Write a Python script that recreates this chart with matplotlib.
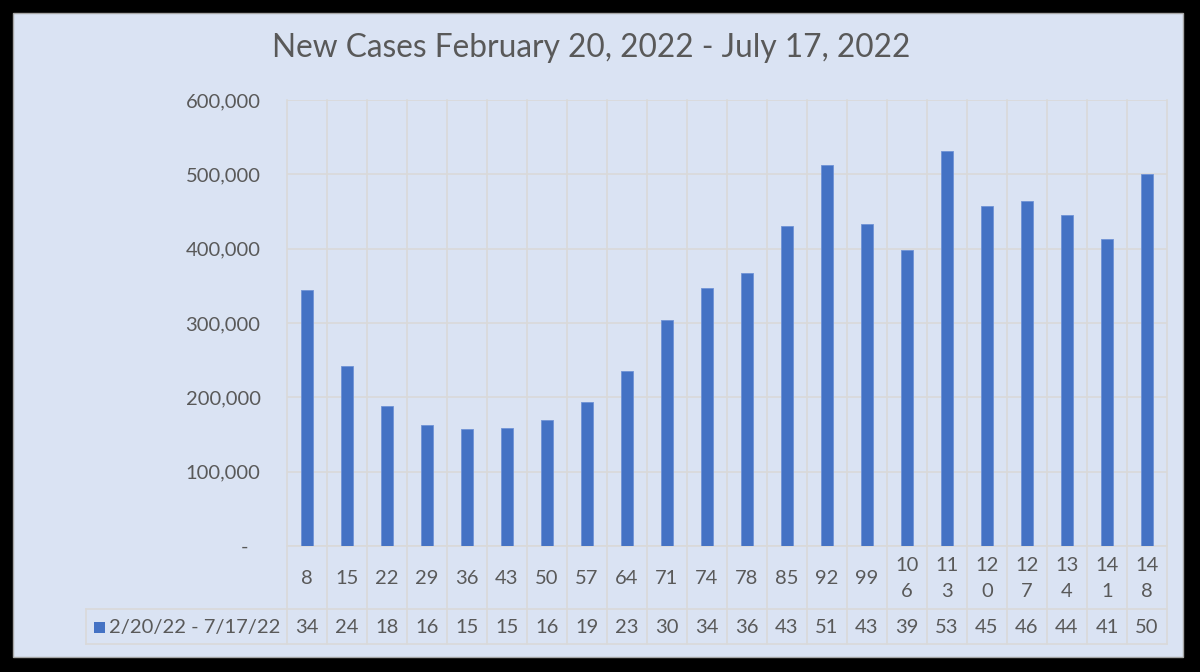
import matplotlib
matplotlib.use("Agg")
import matplotlib.pyplot as plt
import matplotlib.transforms as mtransforms
from matplotlib.patches import Rectangle
from matplotlib.lines import Line2D

plt.rcParams['font.family'] = ['Lato', 'DejaVu Sans']

title = "New Cases February 20, 2022 - July 17, 2022"
series_name = "2/20/22 - 7/17/22"
categories = ["8", "15", "22", "29", "36", "43", "50", "57", "64", "71", "74",
              "78", "85", "92", "99", "106", "113", "120", "127", "134", "141", "148"]
values = [345000, 242000, 189000, 163000, 157000, 159000, 169000, 194000, 235000,
          304000, 347000, 367000, 430000, 513000, 433000, 398000, 531000, 457000,
          464000, 445000, 413000, 501000]
yticks = [0, 100000, 200000, 300000, 400000, 500000, 600000]

W, H = 1200, 672
fig = plt.figure(figsize=(W / 100, H / 100), dpi=100)
fig.patch.set_facecolor("black")

def fx(px):
    return px / W

def fy(py):
    return 1 - py / H

bg = "#dae3f3"
grid_c = "#d9d9d9"
text_c = "#595959"
bar_c = "#4472c4"
fs = 14.5

# panel
fig.add_artist(Rectangle((fx(13), fy(657)), fx(1183) - fx(13), fy(13) - fy(657),
                         transform=fig.transFigure, facecolor=bg,
                         edgecolor="#a6a6a6", linewidth=1, zorder=-5))

fig.text(fx(591), fy(48), title, ha="center", va="center", fontsize=22.8, color=text_c)

L, R, T, B = 287, 1167, 100, 546
ax = fig.add_axes([fx(L), fy(B), fx(R) - fx(L), fy(T) - fy(B)])
ax.set_facecolor("none")
n = len(categories)
x = list(range(n))
ax.bar(x, values, width=0.32, color=bar_c, edgecolor="#6f93d6", linewidth=0.6, zorder=3)
ax.set_xlim(-0.5, n - 0.5)
ax.set_ylim(0, 600000)
ax.set_yticks(yticks)
ax.set_yticklabels(["-"] + [f"{v:,}" for v in yticks[1:]])
ax.tick_params(axis="y", length=0, pad=19, labelsize=fs, labelcolor=text_c)
ax.set_xticks([])
for s in ax.spines.values():
    s.set_visible(False)
ax.yaxis.grid(True, color=grid_c, linewidth=1.2, zorder=0)
ax.set_axisbelow(True)
fig.canvas.draw()
for lab in ax.get_yticklabels():
    if lab.get_text() == "-":
        lab.set_transform(lab.get_transform() +
                          mtransforms.ScaledTranslation(-12 / 100, 0, fig.dpi_scale_trans))

# table
row1_bot, row2_bot = 609, 644
lw = 1.2
for i in range(n + 1):
    xp = L + (R - L) * i / n
    fig.add_artist(Line2D([fx(xp), fx(xp)], [fy(T), fy(row2_bot)], transform=fig.transFigure,
                          color=grid_c, linewidth=lw, zorder=-1))
fig.add_artist(Line2D([fx(L), fx(R)], [fy(B), fy(B)], transform=fig.transFigure,
                      color=grid_c, linewidth=lw, zorder=-1))
fig.add_artist(Line2D([fx(86), fx(R)], [fy(row1_bot), fy(row1_bot)], transform=fig.transFigure,
                      color=grid_c, linewidth=lw, zorder=-1))
fig.add_artist(Line2D([fx(86), fx(R)], [fy(row2_bot), fy(row2_bot)], transform=fig.transFigure,
                      color=grid_c, linewidth=lw, zorder=-1))
fig.add_artist(Line2D([fx(86), fx(86)], [fy(row1_bot), fy(row2_bot)], transform=fig.transFigure,
                      color=grid_c, linewidth=lw, zorder=-1))

for i, (c, v) in enumerate(zip(categories, values)):
    xc = L + (R - L) * (i + 0.5) / n
    lab = c if len(c) <= 2 else c[:2] + "\n" + c[2:]
    fig.text(fx(xc), fy((B + row1_bot) / 2 + 1), lab, ha="center", va="center",
             fontsize=fs, color=text_c, linespacing=1.6)
    fig.text(fx(xc), fy((row1_bot + row2_bot) / 2 + 1), str(int(v))[:2], ha="center",
             va="center", fontsize=fs, color=text_c)

# legend key in table
fig.add_artist(Rectangle((fx(94), fy(633)), fx(11), fy(0) - fy(11),
                         transform=fig.transFigure, facecolor=bar_c, edgecolor="none"))
fig.text(fx(109), fy(627), series_name, ha="left", va="center", fontsize=fs, color=text_c)

fig.savefig("out.png", dpi=100, facecolor=fig.get_facecolor())
